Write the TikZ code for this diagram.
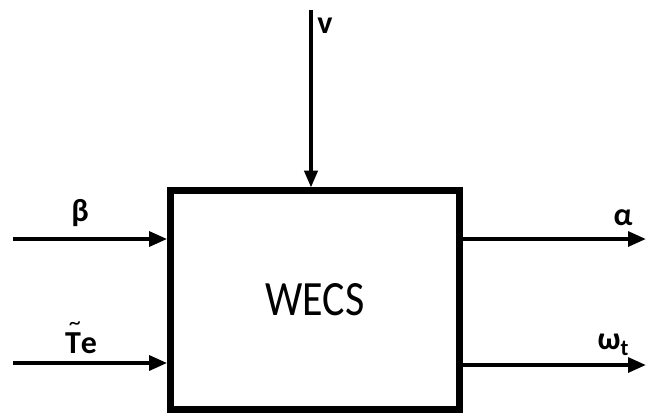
\documentclass[tikz,border=0pt]{standalone}
\usepackage{fontspec}
\setmainfont{Carlito}
\usetikzlibrary{arrows.meta}
\begin{document}
\begin{tikzpicture}[x=0.75pt,y=-0.75pt,
  arr/.style={line width=3pt,-{Triangle[length=13.5pt,width=11pt]}},
  varr/.style={line width=2.3pt,-{Triangle[length=12.5pt,width=10pt]}},
  lbl/.style={font=\bfseries\fontsize{24}{28}\selectfont,inner sep=0pt}]
\useasboundingbox (0,0) rectangle (646,415);
\node[draw,line width=5pt,minimum width=216.75pt,minimum height=164pt,inner sep=0pt] (box) at (315,300) {};
\node[inner sep=0pt,font=\fontsize{37}{40}\selectfont] (wecs) at (315,300) {\scalebox{0.85}[1]{WECS}};
\coordinate (b0) at (13,239);
\coordinate (t0) at (13,363);
\coordinate (a1) at (646,239);
\coordinate (w1) at (646,365);
\coordinate (v0) at (311,10);
\draw[arr] (b0) -- (b0 -| box.west);
\draw[arr] (t0) -- (t0 -| box.west);
\draw[arr] (a1 -| box.east) -- (a1);
\draw[arr] (w1 -| box.east) -- (w1);
\draw[varr] (v0) -- (v0 |- box.north);
\node[lbl] (lb) at (80,213) {β};
\node[lbl] (lt) at (81,343) {\ooalign{T\cr\hidewidth\hspace{0.12em}\raisebox{0.72em}{\fontsize{18}{18}\mdseries\textasciitilde}\hidewidth\cr}e};
\node[lbl] (la) at (623,218) {α};
\node[lbl] (lw) at (613,345) {ω\raisebox{-0.35ex}{\fontsize{17}{20}\selectfont t}};
\node[lbl] (lv) at (325,26) {v};
\end{tikzpicture}
\end{document}
